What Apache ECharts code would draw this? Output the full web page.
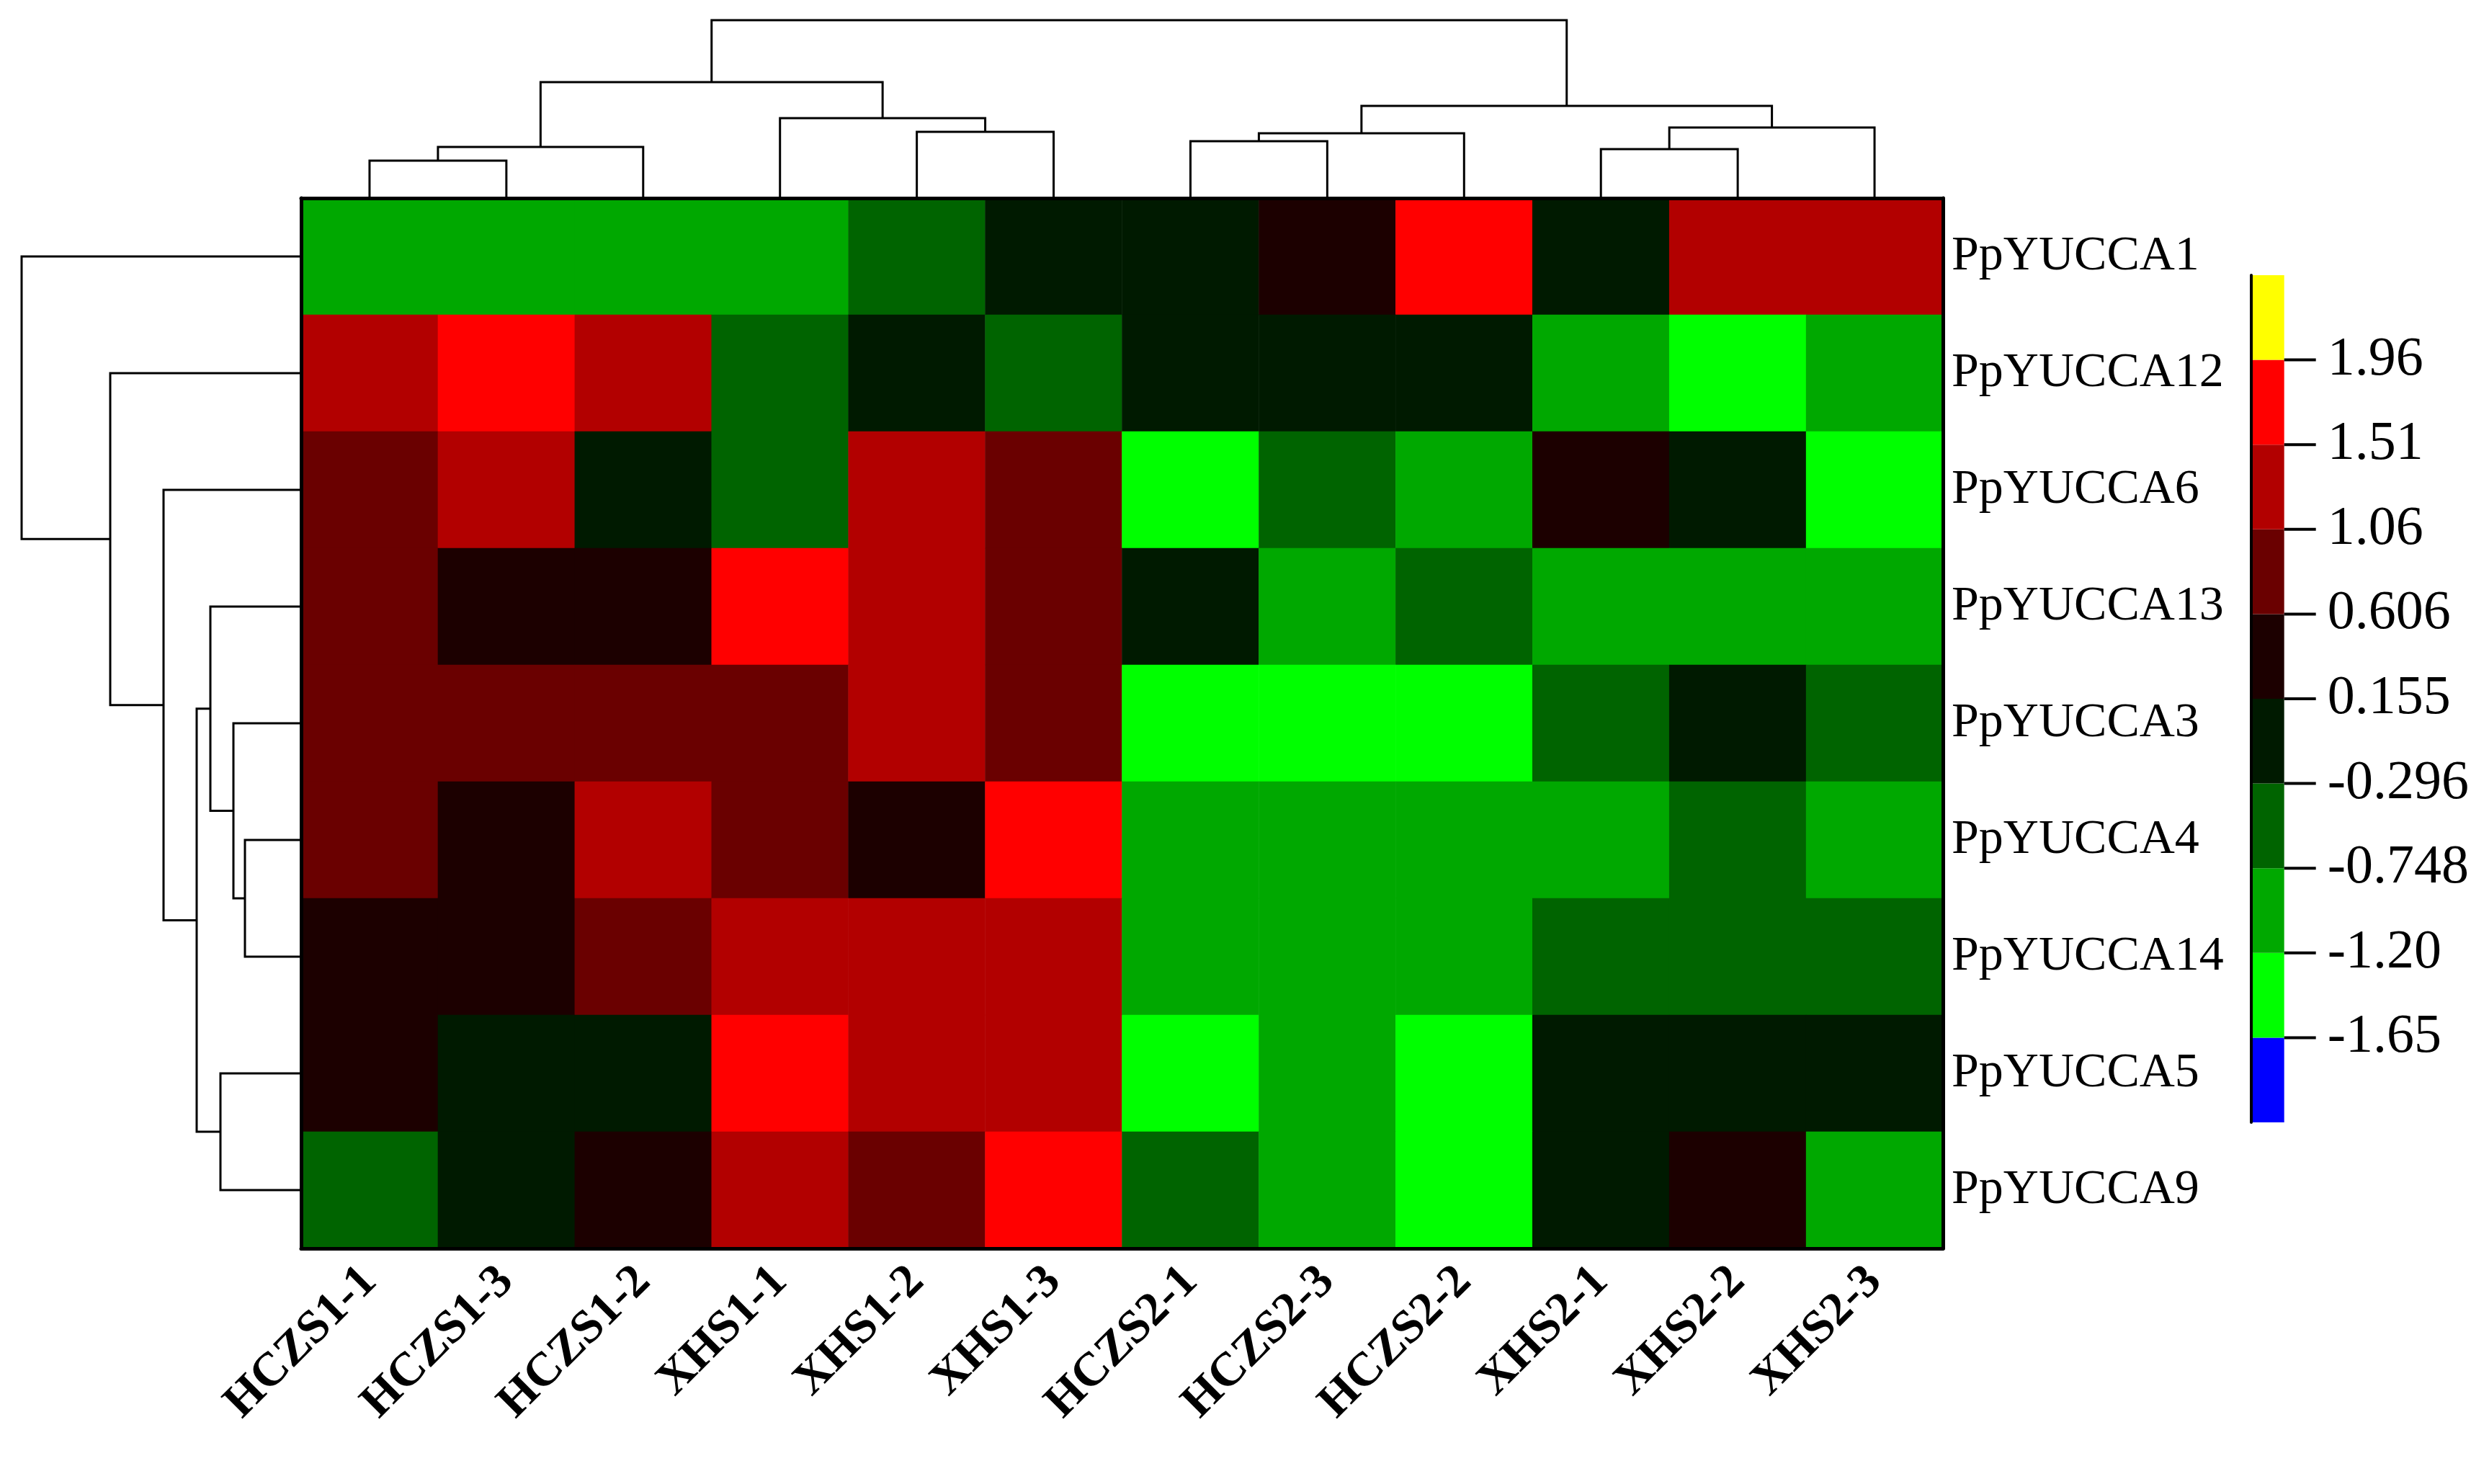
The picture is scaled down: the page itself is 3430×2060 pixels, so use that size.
<!DOCTYPE html>
<html><head><meta charset="utf-8">
<script src="https://cdn.jsdelivr.net/npm/echarts@6/dist/echarts.min.js"></script>
<style>html,body{margin:0;padding:0;background:#fff}#c{width:3430px;height:2060px}</style>
</head><body><div id="c"></div>
<script>
const samples = ['HCZS1-1','HCZS1-3','HCZS1-2','XHS1-1','XHS1-2','XHS1-3','HCZS2-1','HCZS2-3','HCZS2-2','XHS2-1','XHS2-2','XHS2-3'];
const genes = ['PpYUCCA1','PpYUCCA12','PpYUCCA6','PpYUCCA13','PpYUCCA3','PpYUCCA4','PpYUCCA14','PpYUCCA5','PpYUCCA9'];
const PpYUCCA1  = [-1.0,-1.0,-1.0,-1.0,-0.5,-0.05,-0.05,0.4,1.7,-0.05,1.3,1.3];
const PpYUCCA12 = [1.3,1.7,1.3,-0.5,-0.05,-0.5,-0.05,-0.05,-0.05,-1.0,-1.4,-1.0];
const PpYUCCA6  = [0.85,1.3,-0.05,-0.5,1.3,0.85,-1.4,-0.5,-1.0,0.4,-0.05,-1.4];
const PpYUCCA13 = [0.85,0.4,0.4,1.7,1.3,0.85,-0.05,-1.0,-0.5,-1.0,-1.0,-1.0];
const PpYUCCA3  = [0.85,0.85,0.85,0.85,1.3,0.85,-1.4,-1.4,-1.4,-0.5,-0.05,-0.5];
const PpYUCCA4  = [0.85,0.4,1.3,0.85,0.4,1.7,-1.0,-1.0,-1.0,-1.0,-0.5,-1.0];
const PpYUCCA14 = [0.4,0.4,0.85,1.3,1.3,1.3,-1.0,-1.0,-1.0,-0.5,-0.5,-0.5];
const PpYUCCA5  = [0.4,-0.05,-0.05,1.7,1.3,1.3,-1.4,-1.0,-1.4,-0.05,-0.05,-0.05];
const PpYUCCA9  = [-0.5,-0.05,0.4,1.3,0.85,1.7,-0.5,-1.0,-1.4,-0.05,0.4,-1.0];
const rows = [PpYUCCA1,PpYUCCA12,PpYUCCA6,PpYUCCA13,PpYUCCA3,PpYUCCA4,PpYUCCA14,PpYUCCA5,PpYUCCA9];
const legendTicks = ['-1.65','-1.20','-0.748','-0.296','0.155','0.606','1.06','1.51','1.96'];
const legendColors = ['#0000ff','#00ff00','#00a800','#006400','#001a00','#1c0000','#6a0000','#b20000','#ff0000','#ffff00'];
// dendrogram merges: [nodeA, nodeB, height]
const colMerges = [[0,1,52],[12,2,71],[4,5,92],[3,14,111],[13,15,161],[6,7,79],[17,8,90],[9,10,68],[19,11,98],[18,20,128],[16,21,247]];
const rowMerges = [[5,6,78],[4,9,94],[3,10,126],[7,8,112],[11,12,145],[2,13,191],[1,14,265],[0,15,388]];

function dendroSegs(n, merges){
  const pos=[], h=[];
  for(let i=0;i<n;i++){pos.push(i+0.5);h.push(0);}
  const segs=[];
  merges.forEach(m=>{
    const a=m[0], b=m[1], H=m[2];
    segs.push([pos[a],h[a],pos[b],h[b],H]);
    pos.push((pos[a]+pos[b])/2); h.push(H);
  });
  return segs;
}
const heat=[];
rows.forEach((r,yi)=>r.forEach((v,xi)=>heat.push([xi,yi,v])));
const b=legendTicks.map(Number);
const pieces=[{lt:b[0],color:legendColors[0]}];
for(let i=0;i<b.length-1;i++) pieces.push({gte:b[i],lt:b[i+1],color:legendColors[i+1]});
pieces.push({gte:b[b.length-1],color:legendColors[9]});

const font="'Liberation Serif','DejaVu Serif',serif";
const PL=418, PT=275, PW=2279, PH=1458;
const chart=echarts.init(document.getElementById('c'));
const lineStyle={stroke:'#000',lineWidth:3,fill:null};
function dendroRender(vertical){
  return function(params,api){
    const p1=api.value(0),h1=api.value(1),p2=api.value(2),h2=api.value(3),H=api.value(4);
    const c=(p,hh)=>vertical?api.coord([p,hh]):api.coord([hh,p]);
    return {type:'polyline',shape:{points:[c(p1,h1),c(p1,H),c(p2,H),c(p2,h2)]},style:lineStyle};
  };
}
chart.setOption({
  backgroundColor:'#fff',
  animation:false,
  grid:[
    {left:PL,top:PT,width:PW,height:PH},
    {left:PL,top:28,width:PW,height:PT-28},
    {left:30,top:PT,width:PL-30,height:PH},
    {left:3125,top:382,width:75,height:1176}
  ],
  xAxis:[
    {gridIndex:0,type:'category',data:samples,position:'bottom',axisLine:{lineStyle:{color:'#000',width:5}},axisTick:{show:false},
     axisLabel:{rotate:45,fontFamily:font,fontWeight:'bold',fontSize:66,color:'#000',margin:36},z:10},
    {gridIndex:0,type:'category',data:samples,position:'top',axisLine:{lineStyle:{color:'#000',width:5}},axisTick:{show:false},axisLabel:{show:false},z:10},
    {gridIndex:1,type:'value',min:0,max:12,show:false},
    {gridIndex:2,type:'value',min:0,max:388,inverse:true,show:false},
    {gridIndex:3,type:'value',min:0,max:1,show:false}
  ],
  yAxis:[
    {gridIndex:0,type:'category',data:genes,inverse:true,position:'right',axisLine:{lineStyle:{color:'#000',width:5}},axisTick:{show:false},
     axisLabel:{fontFamily:font,fontSize:68,color:'#000',margin:12},z:10},
    {gridIndex:0,type:'category',data:genes,inverse:true,position:'left',axisLine:{lineStyle:{color:'#000',width:5}},axisTick:{show:false},axisLabel:{show:false},z:10},
    {gridIndex:1,type:'value',min:0,max:247,show:false},
    {gridIndex:2,type:'value',min:0,max:9,inverse:true,show:false},
    {gridIndex:3,type:'value',min:0,max:10,interval:1,position:'right',splitLine:{show:false},
     axisLine:{show:true,lineStyle:{color:'#000',width:4}},
     axisTick:{show:false},
     axisLabel:{fontFamily:font,fontSize:76,color:'#000',margin:60,customValues:[1,2,3,4,5,6,7,8,9],formatter:v=>legendTicks[v-1]||''},z:10}
  ],
  visualMap:{show:false,type:'piecewise',seriesIndex:0,dimension:2,pieces:pieces},
  series:[
    {type:'heatmap',xAxisIndex:0,yAxisIndex:0,data:heat,itemStyle:{borderWidth:0}},
    {type:'custom',xAxisIndex:2,yAxisIndex:2,data:dendroSegs(12,colMerges),renderItem:dendroRender(true)},
    {type:'custom',xAxisIndex:3,yAxisIndex:3,data:dendroSegs(9,rowMerges),renderItem:dendroRender(false)},
    {type:'custom',xAxisIndex:4,yAxisIndex:4,clip:false,data:legendColors.map((c,i)=>[i,c]),
     renderItem:function(params,api){
       const i=api.value(0);const p0=api.coord([0,i]);const p1=api.coord([1,i+1]);
       const children=[{type:'rect',shape:{x:p0[0],y:p1[1],width:p1[0]-p0[0],height:p0[1]-p1[1]},style:{fill:legendColors[i]}}];
       if(i>0){const t=api.coord([1,i]);children.push({type:'line',shape:{x1:t[0],y1:t[1],x2:t[0]+44,y2:t[1]},style:{stroke:'#000',lineWidth:4}});}
       return {type:'group',children:children};
     }}
  ]
});
</script></body></html>
